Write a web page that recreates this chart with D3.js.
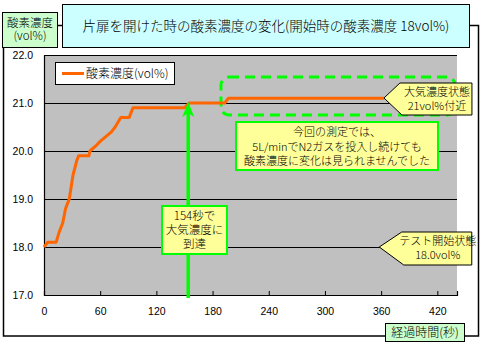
<!DOCTYPE html>
<html><head><meta charset="utf-8">
<script src="https://cdn.jsdelivr.net/npm/d3@7"></script>
<style>
body{margin:0;background:#fff;}
svg{display:block;}
.jp{font-family:"Noto Sans CJK JP","Noto Sans",sans-serif;font-weight:300;}
.num{font-family:"Liberation Sans",Arial,sans-serif;}
</style></head>
<body>
<svg id="c" width="480" height="351"></svg>
<script>
// ---- data ----
const times = [0, 4, 13, 16, 20, 23, 27, 31, 35, 37, 48, 49, 55, 60, 66, 72, 76, 79, 82, 91, 95, 150, 155, 193, 197, 363];
const o2    = [18.0, 18.1, 18.1, 18.3, 18.5, 18.8, 19.0, 19.5, 19.8, 19.9, 19.9, 20.0, 20.1, 20.2, 20.3, 20.4, 20.5, 20.6, 20.7, 20.7, 20.9, 20.9, 21.0, 21.0, 21.1, 21.1];
const xTicks = [0, 60, 120, 180, 240, 300, 360, 420];
const yTicks = [17.0, 18.0, 19.0, 20.0, 21.0, 22.0];
const titleText = "片扉を開けた時の酸素濃度の変化(開始時の酸素濃度 18vol%)";
const yTitle = ["酸素濃度", "(vol%)"];
const xTitle = "経過時間(秒)";
const seriesName = "酸素濃度(vol%)";
const reachTime = 154;
const reachValue = 21.0;
const noteReach = ["154秒で", "大気濃度に", "到達"];
const noteMain = ["今回の測定では、", "5L/minでN2ガスを投入し続けても", "酸素濃度に変化は見られませんでした"];
const calloutTop = {t: 363, v: 21.1, lines: ["大気濃度状態", "21vol%付近"]};
const calloutBot = {t: 358, v: 18.0, lines: ["テスト開始状態", "18.0vol%"]};

const svg = d3.select("#c");
const L = 44, R = 457, T = 55, B = 295;
const x = d3.scaleLinear().domain([0, 441]).range([L, R]);
const y = d3.scaleLinear().domain([17, 22]).range([B, T]);
const GREEN = "#00FF00", YEL = "#FFFF99";

// outer chart border
svg.append("rect").attr("x", 3.5).attr("y", 25.5).attr("width", 475).attr("height", 310.5)
  .attr("fill", "#fff").attr("stroke", "#000").attr("stroke-width", 1.5);

// plot area
svg.append("rect").attr("x", L).attr("y", T).attr("width", R - L).attr("height", B - T).attr("fill", "#C0C0C0");

// gridlines
svg.append("g").selectAll("line").data(yTicks.filter(d => d > 17)).join("line")
  .attr("x1", L).attr("x2", R).attr("y1", d => Math.round(y(d)) + 0.5).attr("y2", d => Math.round(y(d)) + 0.5)
  .attr("stroke", "#000").attr("stroke-width", 1);

// axes
const xAxis = d3.axisBottom(x).tickValues(xTicks).tickFormat(d3.format("d")).tickSize(-4).tickPadding(13);
const gx = svg.append("g").attr("transform", `translate(0,${B})`).call(xAxis);
const yAxis = d3.axisLeft(y).tickValues(yTicks).tickFormat(d3.format(".1f")).tickSize(-4).tickPadding(11);
const gy = svg.append("g").attr("transform", `translate(${L},0)`).call(yAxis);
[gx, gy].forEach(g => {
  g.selectAll("path.domain").attr("stroke", "#000").attr("stroke-width", 1.2);
  g.selectAll(".tick line").attr("stroke", "#000");
  g.selectAll("text").attr("class", "num").attr("font-size", 10.5).attr("fill", "#000");
});

// green dashed rounded rectangle
svg.append("rect").attr("x", 221).attr("y", 77).attr("width", 234).attr("height", 38).attr("rx", 8)
  .attr("fill", "none").attr("stroke", GREEN).attr("stroke-width", 3).attr("stroke-dasharray", "10,6");

// series line
const line = d3.line().x((d, i) => x(times[i])).y(d => y(d));
svg.append("path").attr("d", line(o2)).attr("fill", "none").attr("stroke", "#FF6600")
  .attr("stroke-width", 3).attr("stroke-linejoin", "round");

// green arrow
const ax = x(reachTime), ay = y(reachValue);
svg.append("line").attr("x1", ax).attr("x2", ax).attr("y1", 298).attr("y2", ay + 10)
  .attr("stroke", GREEN).attr("stroke-width", 3.5);
svg.append("path").attr("d", `M${ax},${ay - 1}L${ax + 6},${ay + 14}L${ax},${ay + 10}L${ax - 6},${ay + 14}Z`).attr("fill", GREEN);

function textBlock(cx, cy0, lines, size, lh) {
  const t = svg.append("text").attr("class", "jp").attr("font-size", size).attr("text-anchor", "middle").attr("fill", "#000");
  lines.forEach((s, i) => t.append("tspan").attr("x", cx).attr("y", cy0 + i * lh).attr("dy", "0.35em").text(s));
}

// note boxes
svg.append("rect").attr("x", 162).attr("y", 206).attr("width", 65).attr("height", 48)
  .attr("fill", YEL).attr("stroke", GREEN).attr("stroke-width", 2);
textBlock(194.5, 216, noteReach, 11.5, 14);

svg.append("rect").attr("x", 236).attr("y", 122).attr("width", 202).attr("height", 48)
  .attr("fill", YEL).attr("stroke", GREEN).attr("stroke-width", 2);
textBlock(337, 132.5, noteMain, 11, 14.5);

// callouts
function callout(c, w, h, dxBox) {
  const tx = x(c.t), ty = Math.round(y(c.v));
  const bx = tx + dxBox, top = ty - 15, bot = top + h;
  svg.append("path").attr("d", `M${tx},${ty}L${bx},${top}L${bx + w},${top}L${bx + w},${bot}L${bx + 2},${bot}Z`)
    .attr("fill", YEL).attr("stroke", "#000").attr("stroke-width", 1);
  textBlock(bx + w / 2 + 1, top + 9, c.lines, 11, 14);
}
callout(calloutTop, 72, 32, 16);
callout(calloutBot, 70, 33, 22.5);

// legend
svg.append("rect").attr("x", 55.5).attr("y", 62.5).attr("width", 119).attr("height", 22)
  .attr("fill", "#fff").attr("stroke", "#000");
svg.append("line").attr("x1", 62).attr("x2", 84).attr("y1", 73.5).attr("y2", 73.5).attr("stroke", "#FF6600").attr("stroke-width", 3);
svg.append("text").attr("class", "jp").attr("x", 86).attr("y", 73.5).attr("dy", "0.35em").attr("font-size", 12).text(seriesName);

// title box
svg.append("rect").attr("x", 62.5).attr("y", 4.5).attr("width", 407).attr("height", 43)
  .attr("fill", "#CCFFFF").attr("stroke", "#000");
svg.append("text").attr("class", "jp").attr("x", 266).attr("y", 26).attr("dy", "0.35em")
  .attr("text-anchor", "middle").attr("font-size", 13.5).text(titleText);

// y title
svg.append("rect").attr("x", 2.5).attr("y", 12.5).attr("width", 55).attr("height", 35)
  .attr("fill", "#CCFFCC").attr("stroke", "#000");
textBlock(30, 22.5, yTitle, 11.5, 13.5);

// x title
svg.append("rect").attr("x", 385.5).attr("y", 323.5).attr("width", 79).attr("height", 18)
  .attr("fill", "#CCFFCC").attr("stroke", "#000");
textBlock(425, 332.5, [xTitle], 12, 0);
</script>
</body></html>
